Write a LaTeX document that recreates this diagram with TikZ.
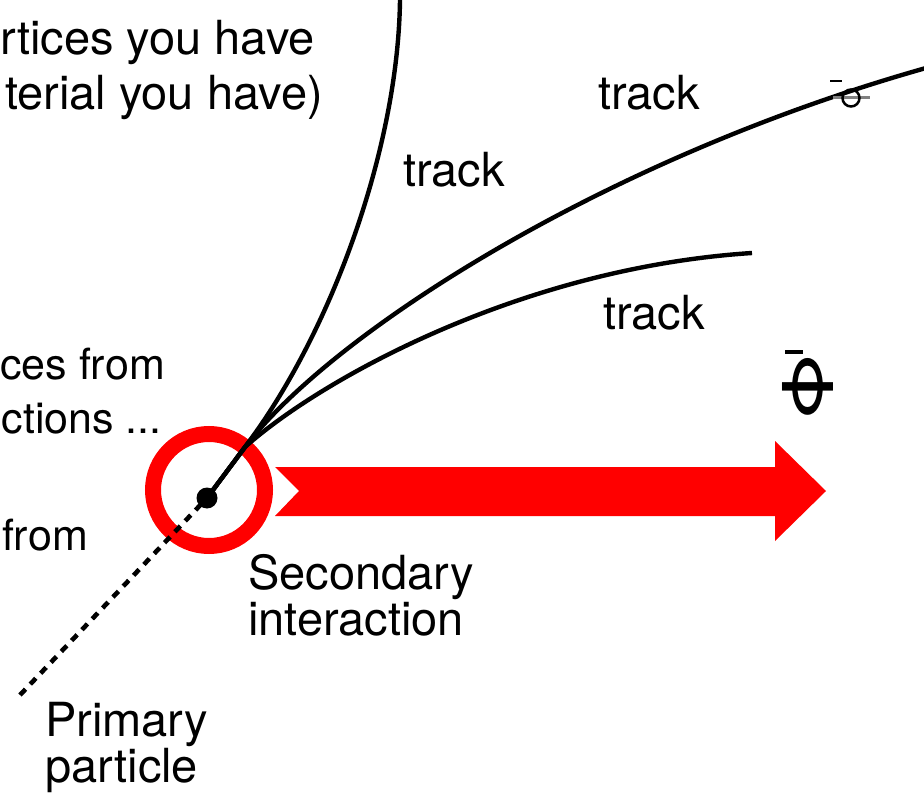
\documentclass[tikz,border=0pt]{standalone}
\usepackage{fontspec}
\setmainfont{TeX Gyre Heros}
\colorlet{ringred}{red}
\tikzset{
  trk/.style = {line width=4.4pt},
  primary/.style = {line width=4.6pt, dash pattern=on 8pt off 7pt},
  ring/.style = {draw=ringred, line width=16pt},
  txt/.style = {inner sep=0pt, font=\fontsize{47}{46}\selectfont},
  cut/.style = {txt, anchor=base east, font=\fontsize{43}{43}\selectfont},
  twoline/.style = {txt, align=left, anchor=north west}
}

\begin{document}
\begin{tikzpicture}[x=1pt,y=-1pt]
  \useasboundingbox (0,0) rectangle (924,794);
  \clip (0,0) rectangle (924,794);
  % coordinates
  \coordinate (src) at (20,695);
  \coordinate (vtx) at (207,498);
  \coordinate (fork) at (245,447);
  \coordinate (endA) at (400,0);
  \coordinate (endB) at (926,68);
  \coordinate (endC) at (752,253);
  % secondary interaction
  \draw[ring] (209,490) circle (56pt);
  % big arrow
  \fill[ringred] (275,467) -- (775,467) -- (775,441) -- (826,491)
    -- (775,541) -- (775,516) -- (275,516) -- (299,491) -- cycle;
  % primary particle
  \draw[primary] (src) -- (vtx);
  % tracks
  \draw[trk] (vtx) -- (fork) .. controls (330,335) and (398,150) .. (endA);
  \draw[trk] (vtx) -- (fork) .. controls (330,335) and (600,160) .. (endB);
  \draw[trk] (vtx) -- (fork) .. controls (320,380) and (520,268) .. (endC);
  \fill (vtx) circle (10.5pt);
  % marks
  \node (phibig) [txt, rotate=90, xscale=1.3, font=\fontsize{70}{70}\selectfont] at (808,387) {Φ};
  \draw[line width=4pt] (785,352) -- (803,352);
  \draw[line width=3pt, gray] (833,98) -- (870,98);
  \draw[line width=2.5pt] (851,98) circle (8.5pt);
  \draw[line width=2pt] (830,81) -- (842,81);
  % labels
  \node (lblA) [txt, anchor=base west] at (403,187) {track};
  \node (lblB) [txt, anchor=base west] at (598,110) {track};
  \node (lblC) [txt, anchor=base west] at (603,330) {track};
  \node (sec) [twoline] at (248,554) {Secondary\\interaction};
  \node (prim) [twoline] at (45,702) {Primary\\particle};
  % cut text on the left
  \node (cutA) [txt, anchor=base east] at (315,55) {rtices you have};
  \node (cutB) [txt, anchor=base east] at (323,110) {terial you have)};
  \node (cutC) [cut] at (165,380) {ces from};
  \node (cutD) [cut] at (162,433) {ctions ...};
  \node (cutE) [cut] at (88,550) {from};
\end{tikzpicture}
\end{document}
